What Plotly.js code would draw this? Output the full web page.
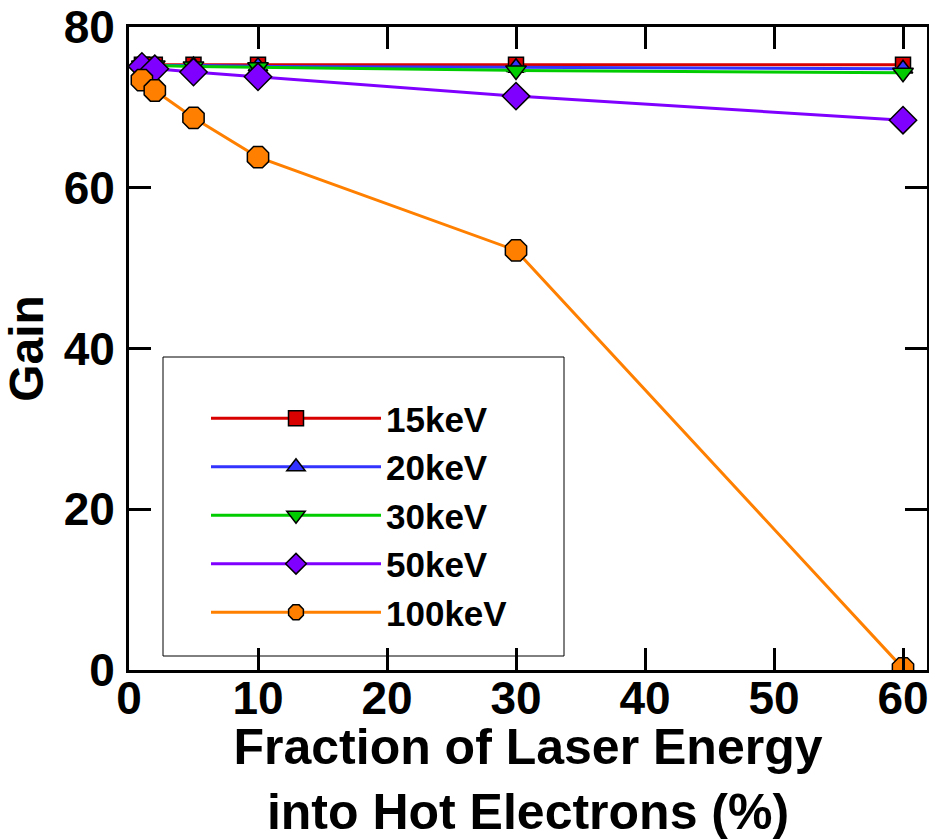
<!DOCTYPE html>
<html>
<head>
<meta charset="utf-8">
<script src="https://cdn.plot.ly/plotly-3.0.1.min.js"></script>
<style>html,body{margin:0;padding:0;background:#fff;}#chart{width:929px;height:840px;}</style>
</head>
<body>
<div id="chart"></div>
<script>
// Fraction of laser energy into hot electrons (%)
const fraction = [1, 2, 5, 10, 30, 60];
const seriesNames = ["15keV", "20keV", "30keV", "50keV", "100keV"];
const gain15 = [75.3, 75.3, 75.3, 75.3, 75.3, 75.3];
const gain20 = [75.2, 75.2, 75.2, 75.1, 75.0, 74.8];
const gain30 = [75.2, 75.2, 75.1, 75.0, 74.6, 74.3];
const gain50 = [75.1, 74.8, 74.4, 73.8, 71.4, 68.4];
const gain100 = [73.4, 72.1, 68.7, 63.8, 52.2, 0.2];
const xTicks = [0, 10, 20, 30, 40, 50, 60];
const yTicks = [0, 20, 40, 60, 80];

const colors = ["#d90000", "#3333ff", "#00cc00", "#8000ff", "#ff8000"];
const symbols = ["square", "triangle-up", "triangle-down", "diamond", "octagon"];
const sizes = [15, 17, 18, 21, 23];
const gains = [gain15, gain20, gain30, gain50, gain100];

const font = "Liberation Sans, Arial, sans-serif";
const traces = gains.map((g, i) => ({
  type: "scatter", mode: "lines+markers", x: fraction, y: g, name: seriesNames[i],
  line: {color: colors[i], width: 3},
  marker: {symbol: symbols[i], size: sizes[i], color: colors[i], line: {color: "#000", width: 1.5}},
  legendgroup: "g" + i
}));

const axisCommon = {
  showline: true, linecolor: "#000", linewidth: 3, mirror: "ticks",
  ticks: "inside", ticklen: 22, tickwidth: 3, tickcolor: "#000",
  showgrid: false, zeroline: false,
  tickfont: {family: font, size: 46, color: "#000", weight: "bold"}
};

const layout = {
  width: 929, height: 840,
  margin: {l: 129, r: 2, t: 27, b: 170},
  paper_bgcolor: "#fff", plot_bgcolor: "#fff",
  showlegend: true,
  xaxis: Object.assign({}, axisCommon, {
    range: [0, 61.86], tickvals: xTicks, ticktext: xTicks.map(String),
    ticklabelstandoff: -14,
    title: {text: "Fraction of Laser Energy<br>into Hot Electrons (%)", font: {family: font, size: 50, color: "#000", weight: "bold"}, standoff: 8}
  }),
  yaxis: Object.assign({}, axisCommon, {
    range: [0, 80], tickvals: yTicks, ticktext: yTicks.map(String),
    ticklabelstandoff: 2,
    title: {text: "Gain", font: {family: font, size: 48, color: "#000", weight: "bold"}, standoff: 6}
  }),
  legend: {
    x: (206 - 129) / 798, y: (670 - 389) / 643, xanchor: "left", yanchor: "top",
    bgcolor: "rgba(0,0,0,0)", borderwidth: 0, itemwidth: 170,
    font: {family: font, size: 35, color: "#000", weight: "bold"},
    traceorder: "normal", tracegroupgap: 0
  },
  shapes: [{type: "rect", xref: "paper", yref: "paper",
    x0: (163 - 129) / 798, x1: (564 - 129) / 798, y0: (670 - 656) / 643, y1: (670 - 357) / 643,
    line: {color: "#000", width: 1}, fillcolor: "rgba(0,0,0,0)", layer: "below"}]
};

Plotly.newPlot("chart", traces, layout, {displayModeBar: false, staticPlot: true});
</script>
</body>
</html>
